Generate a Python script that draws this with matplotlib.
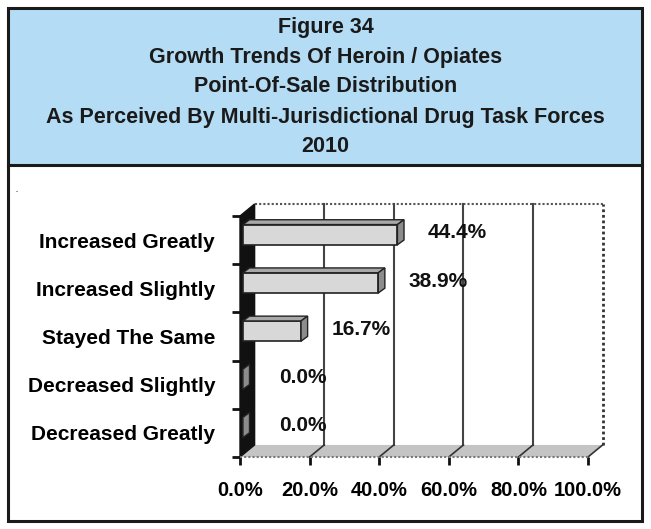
import matplotlib
matplotlib.use("Agg")
import matplotlib.pyplot as plt
from matplotlib.patches import Polygon, Rectangle

plt.rcParams['font.family'] = ['Liberation Sans', 'DejaVu Sans']
plt.rcParams['font.weight'] = 'bold'

TITLE_LINES = [
    "Figure 34",
    "Growth Trends Of Heroin / Opiates",
    "Point-Of-Sale Distribution",
    "As Perceived By Multi-Jurisdictional Drug Task Forces",
    "2010",
]
categories = ["Decreased Greatly", "Decreased Slightly", "Stayed The Same",
              "Increased Slightly", "Increased Greatly"]
percentages = [0.0, 0.0, 16.7, 38.9, 44.4]
x_ticks = [0, 20, 40, 60, 80, 100]

W, H = 651, 529
BLUE = "#b4dcf4"


def fx(px):
    return px / W


def fy(py):
    return 1 - py / H


fig = plt.figure(figsize=(W / 100, H / 100), dpi=100)

# header box and outer frame
fig.patches.append(Rectangle((fx(8), fy(165)), fx(634), 157 / H, transform=fig.transFigure,
                             facecolor=BLUE, edgecolor="none", zorder=0))
fig.patches.append(Rectangle((fx(8), fy(521)), fx(634), 513 / H, transform=fig.transFigure,
                             facecolor="none", edgecolor="#1a1a1a", lw=2.2, zorder=5))
fig.add_artist(plt.Line2D([fx(8), fx(642)], [fy(165), fy(165)], transform=fig.transFigure,
                          color="#1a1a1a", lw=2.2))
for line, py in zip(TITLE_LINES, [28, 58, 87, 117, 146]):
    fig.text(0.5, fy(py), line, ha="center", va="center", fontsize=15.5, color="#1a1a1a")
fig.text(fx(17), fy(190), ".", fontsize=5, ha="center", va="center")

ax = fig.add_axes([fx(240), fy(457), 348 / W, 241 / H])
ax.set_xlim(0, 100)
ax.set_ylim(-0.5, 4.5)
ax.set_facecolor("none")
for s in ax.spines.values():
    s.set_visible(False)

# depth of the 3d box in data units
DX, DY = 4.2, 0.25
y0, y1 = -0.5, len(categories) - 0.5

# back wall edges (dotted) and gridlines
ax.plot([DX, 100 + DX], [y1 + DY, y1 + DY], color="#555555", lw=1.5, ls=(0, (1, 1)), clip_on=False)
ax.plot([100 + DX, 100 + DX], [y0 + DY, y1 + DY], color="#333333", lw=2, ls=(0, (1, 1)), clip_on=False)
for t in x_ticks[1:-1]:
    ax.plot([t + DX, t + DX], [y0 + DY, y1 + DY], color="#444444", lw=1.5, clip_on=False)

# floor
ax.add_patch(Polygon([(0, y0), (100, y0), (100 + DX, y0 + DY), (DX, y0 + DY)],
                     closed=True, facecolor="#c4c4c4", edgecolor="none", clip_on=False))
for t in x_ticks[1:]:
    ax.plot([t, t + DX], [y0, y0 + DY], color="#333333", lw=1.2, clip_on=False)
ax.plot([0, 100], [y0, y0], color="#777777", lw=1.5, ls=(0, (1, 1)), clip_on=False)

# left wall
ax.add_patch(Polygon([(0, y0), (0, y1), (DX, y1 + DY), (DX, y0 + DY)],
                     closed=True, facecolor="#111111", edgecolor="#111111", lw=1, clip_on=False))

# bars: front face sits partway into the depth, caps reach further back
bh = 0.42
ox, oy = DX * 0.2, DY * 0.45
cx, cy = DX * 0.45, DY * 0.4
for i, v in enumerate(percentages):
    yc = i + oy
    ax.barh(yc, v, left=ox, height=bh, color="#d8d8d8", edgecolor="#222222", lw=1.2,
            zorder=3, clip_on=False)
    yt, yb = yc + bh / 2, yc - bh / 2
    ax.add_patch(Polygon([(ox, yt), (ox + v, yt), (ox + v + cx, yt + cy), (ox + cx, yt + cy)],
                         closed=True, facecolor="#a8a8a8", edgecolor="#222222", lw=1,
                         zorder=3, clip_on=False))
    ax.add_patch(Polygon([(ox + v, yb), (ox + v, yt), (ox + v + cx, yt + cy), (ox + v + cx, yb + cy)],
                         closed=True, facecolor="#8c8c8c", edgecolor="#222222", lw=1,
                         zorder=4, clip_on=False))
    ax.text(v + 18, i + 0.15, f"{v:.1f}%", ha="center", va="center", fontsize=15,
            color="#111111", zorder=5)

ax.set_xticks(x_ticks)
ax.set_xticklabels([f"{t:.1f}%" for t in x_ticks], fontsize=14.5)
ax.set_yticks(range(len(categories)))
ax.set_yticklabels(categories, fontsize=15)
ax.set_yticks([k - 0.5 for k in range(len(categories) + 1)], minor=True)
ax.tick_params(axis="y", which="major", length=0, pad=18)
ax.tick_params(axis="y", which="minor", length=6, width=2, direction="out", color="#111111")
ax.tick_params(axis="x", length=6, width=2, direction="out", pad=11, color="#111111")

fig.savefig("out.png", dpi=100)
